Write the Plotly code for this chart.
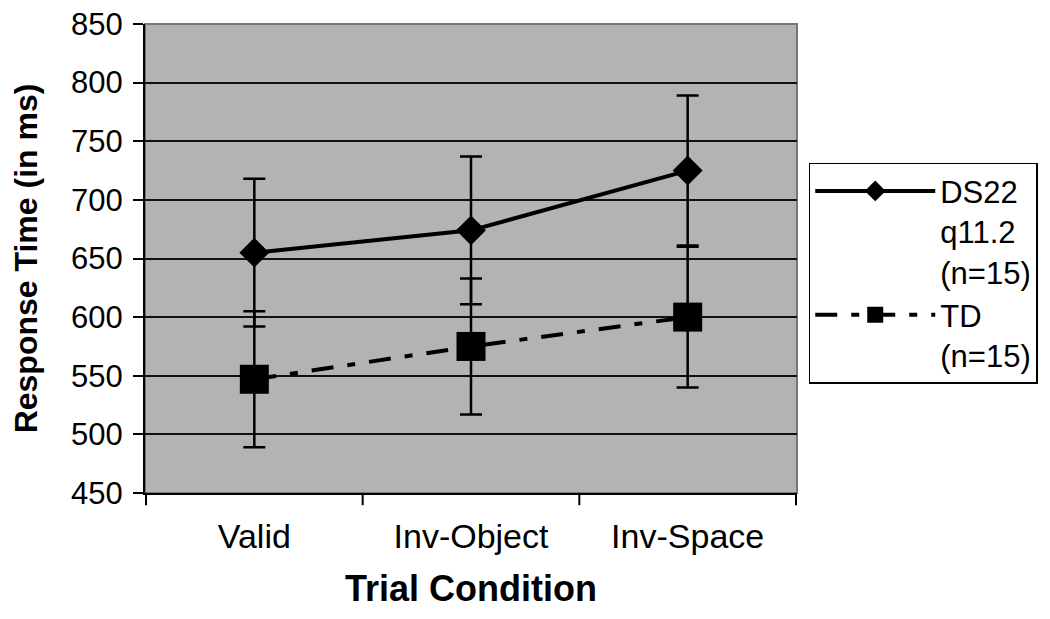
import plotly.graph_objects as go

FONT = "Arial, 'Liberation Sans', sans-serif"

conditions = ["Valid", "Inv-Object", "Inv-Space"]

ds_name = "DS22<br>q11.2<br>(n=15)"
ds_mean = [655, 674, 725]
ds_err = [63, 63, 64]

td_name = "TD<br>(n=15)"
td_mean = [547, 575, 600]
td_err = [58, 58, 60]

y_ticks = [450, 500, 550, 600, 650, 700, 750, 800, 850]

fig = go.Figure()

fig.add_trace(go.Scatter(
    x=conditions, y=ds_mean, name=ds_name, mode="lines+markers",
    line=dict(color="black", width=4),
    marker=dict(symbol="diamond", size=23, color="black"),
    error_y=dict(type="data", array=ds_err, visible=True,
                 color="black", thickness=2.5, width=11),
))
fig.add_trace(go.Scatter(
    x=conditions, y=td_mean, name=td_name, mode="lines+markers",
    line=dict(color="black", width=4, dash="22px,14px,8px,14px"),
    marker=dict(symbol="square", size=29, color="black"),
    error_y=dict(type="data", array=td_err, visible=True,
                 color="black", thickness=2.5, width=11),
))

# the page body adds an 8px offset, so margins are shifted to compensate
fig.update_layout(
    width=1050, height=619,
    margin=dict(l=137, r=261, t=16, b=134, autoexpand=False),
    paper_bgcolor="white",
    plot_bgcolor="#b3b3b3",
    font=dict(family=FONT, size=31, color="black"),
    showlegend=True,
    legend=dict(
        x=1.018, y=0.704, xanchor="left", yanchor="top",
        bgcolor="white", bordercolor="black", borderwidth=1.5,
        font=dict(size=31), valign="top", itemwidth=120,
        tracegroupgap=0,
    ),
)

fig.update_xaxes(
    type="category", automargin=False,
    showline=True, linecolor="black", linewidth=2,
    ticks="", showgrid=False, ticklabelstandoff=12,
    ticklabeloverflow="allow",
    tickfont=dict(size=34),
    title=dict(text="<b>Trial Condition</b>", font=dict(size=36), standoff=22),
)
fig.update_yaxes(
    range=[450, 850], tickvals=y_ticks, automargin=False,
    showline=True, linecolor="black", linewidth=2,
    ticks="outside", ticklen=10, tickwidth=2, tickcolor="black",
    showgrid=True, gridcolor="#111111", gridwidth=2, ticklabelstandoff=4,
    ticklabeloverflow="allow",
    tickfont=dict(size=31),
    title=dict(text="<b>Response Time (in ms)</b>", font=dict(size=32), standoff=28),
    zeroline=False,
)

# category-boundary tick marks on the x axis
for xb in [-0.5, 0.5, 1.5, 2.5]:
    fig.add_shape(type="line", xref="x", yref="paper", x0=xb, x1=xb, y0=0, y1=-0.026,
                  line=dict(color="black", width=2))
# gray top / right border
fig.add_shape(type="rect", xref="paper", yref="paper", x0=0, x1=1, y0=0, y1=1,
              line=dict(color="#777777", width=2), layer="below")

fig.write_html("out.html")
